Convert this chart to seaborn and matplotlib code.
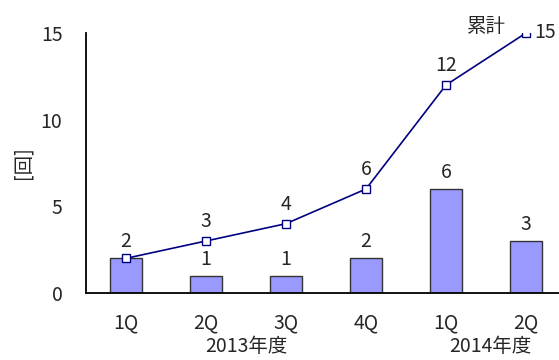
import matplotlib
matplotlib.use("Agg")
import matplotlib.pyplot as plt
import seaborn as sns
import pandas as pd

quarters = ["1Q", "2Q", "3Q", "4Q", "1Q", "2Q"]
per_quarter = [2, 1, 1, 2, 6, 3]
cumulative = [2, 3, 4, 6, 12, 15]
fiscal_years = ["2013年度", "2014年度"]

sns.set_theme(style="white")
plt.rcParams["font.family"] = ["Noto Sans CJK JP", "DejaVu Sans"]

df = pd.DataFrame({"pos": list(range(len(quarters))),
                   "count": per_quarter,
                   "cum": cumulative})

fig = plt.figure(figsize=(5.59, 3.6), dpi=100)
ax = fig.add_axes([86 / 559, 1 - 293 / 360, 480 / 559, 260 / 360])

sns.barplot(data=df, x="pos", y="count", color="#9999FF", saturation=1,
            width=0.4, edgecolor="#333333", linewidth=1.0, ax=ax)
sns.lineplot(data=df, x="pos", y="cum", color="#000080", linewidth=1.2,
             marker="s", markersize=6, markerfacecolor="white",
             markeredgecolor="#000080", markeredgewidth=1.0, ax=ax)

fs = 14
# bar value labels (the first one also serves as the first cumulative label)
for i, v in enumerate(per_quarter):
    ax.text(i, v + 0.95, str(v), ha="center", va="center", fontsize=fs)
for i, v in enumerate(cumulative):
    if i == 0:
        continue
    if i == len(cumulative) - 1:
        ax.text(i + 0.1, v, str(v), ha="left", va="center", fontsize=fs)
    else:
        ax.text(i, v + 1.1, str(v), ha="center", va="center", fontsize=fs)
ax.text(4.5, 15.4, "累計", ha="center", va="center", fontsize=fs)

ax.set_xlim(-0.5, 5.5)
ax.set_ylim(0, 15)
ax.set_yticks([0, 5, 10, 15])
ax.set_xticks(range(len(quarters)))
ax.set_xticklabels(quarters, fontsize=fs)
ax.set_xticks([0.5, 1.5, 2.5, 3.5, 4.5], minor=True)
ax.tick_params(axis="x", which="major", length=0, pad=14)
ax.tick_params(axis="x", which="minor", direction="in", length=5, width=1.2, color="black")
ax.tick_params(axis="y", direction="in", length=5, width=1.2, color="black",
               labelsize=fs, pad=17)
ax.set_xlabel("")
ax.set_ylabel("[回]", fontsize=fs, labelpad=5)

for s in ["top", "right"]:
    ax.spines[s].set_visible(False)
for s in ["left", "bottom"]:
    ax.spines[s].set_color("black")
    ax.spines[s].set_linewidth(1.3)

for x, label in zip([1.5, 4.55], fiscal_years):
    ax.text(x, (293 - 347) / 260, label, transform=ax.get_xaxis_transform(),
            ha="center", va="center", fontsize=fs)

fig.savefig("out.png", dpi=100)
